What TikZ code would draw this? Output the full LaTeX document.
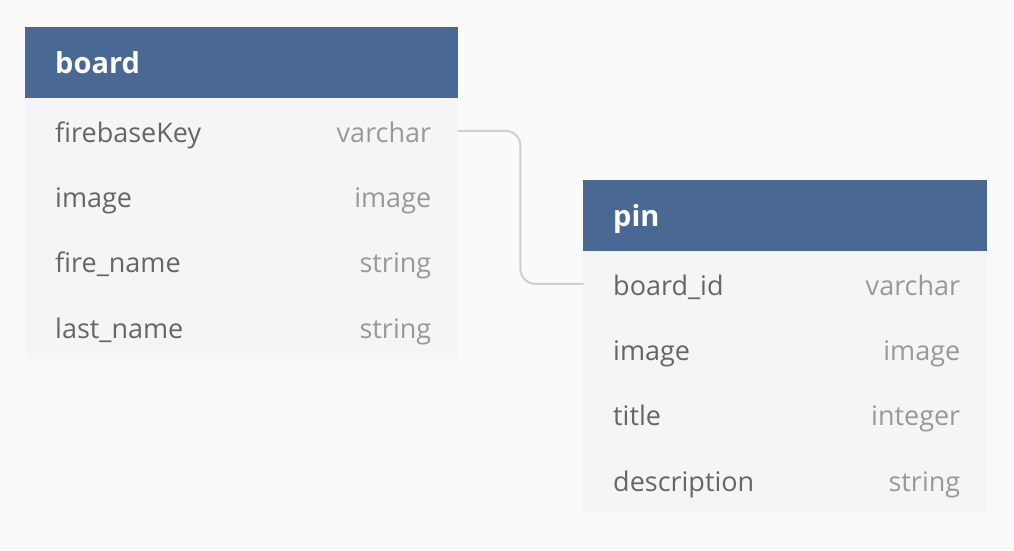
\documentclass[tikz,border=0pt]{standalone}
\usepackage{fontspec}
\setmainfont{Open Sans}
\usetikzlibrary{positioning}
\definecolor{headblue}{HTML}{4A6894}
\definecolor{rowgray}{HTML}{F5F5F5}
\definecolor{bggray}{HTML}{FAFAFA}
\definecolor{namegray}{HTML}{666666}
\definecolor{typegray}{HTML}{999999}
\definecolor{linkgray}{HTML}{CFCFCF}
\begin{document}
\begin{tikzpicture}[x=1pt,y=-1pt, line join=round, line cap=round,
    tablehead/.style={draw=none,fill=headblue,inner sep=0pt,anchor=north west,minimum height=71pt},
    tablerow/.style={draw=none,fill=rowgray,inner sep=0pt,anchor=north west,minimum height=65.25pt},
    headtext/.style={text=white,font=\fontsize{29}{32}\selectfont\bfseries,anchor=base west,inner sep=0pt},
    fieldname/.style={text=namegray,font=\fontsize{27}{30}\selectfont,anchor=base west,inner sep=0pt},
    fieldtype/.style={text=typegray,font=\fontsize{27}{30}\selectfont,anchor=base east,inner sep=0pt},
    link/.style={draw=linkgray,line width=2pt,rounded corners=15pt}]
    %% canvas
    \fill[bggray] (0,0) rectangle (1014,550);
    \useasboundingbox (0,0) rectangle (1014,550);
    %% table board
    \node[tablehead,minimum width=433pt] (board) at (25,27) {};
    \node[headtext] at ([xshift=30pt,yshift=-10.5pt]board.west) {board};
    \foreach \n/\t [count=\i] in {firebaseKey/varchar,image/image,fire\_name/string,last\_name/string}{
        \node[tablerow,minimum width=433pt] (board-\i) at (25,{98+(\i-1)*65.25}) {};
        \node[fieldname] (board-\i-name) at ([xshift=30pt,yshift=-11.5pt]board-\i.west) {\n};
        \node[fieldtype] (board-\i-type) at ([xshift=-27pt,yshift=-11.5pt]board-\i.east) {\t};
    }
    %% table pin
    \node[tablehead,minimum width=404pt] (pin) at (583,180) {};
    \node[headtext] at ([xshift=30pt,yshift=-10.5pt]pin.west) {pin};
    \foreach \n/\t [count=\i] in {board\_id/varchar,image/image,title/integer,description/string}{
        \node[tablerow,minimum width=404pt] (pin-\i) at (583,{251+(\i-1)*65.25}) {};
        \node[fieldname] (pin-\i-name) at ([xshift=30pt,yshift=-11.5pt]pin-\i.west) {\n};
        \node[fieldtype] (pin-\i-type) at ([xshift=-27pt,yshift=-11.5pt]pin-\i.east) {\t};
    }
    %% relation
    \draw[link] (board-1.east) -- ++(62,0) |- (pin-1.west);
\end{tikzpicture}
\end{document}
